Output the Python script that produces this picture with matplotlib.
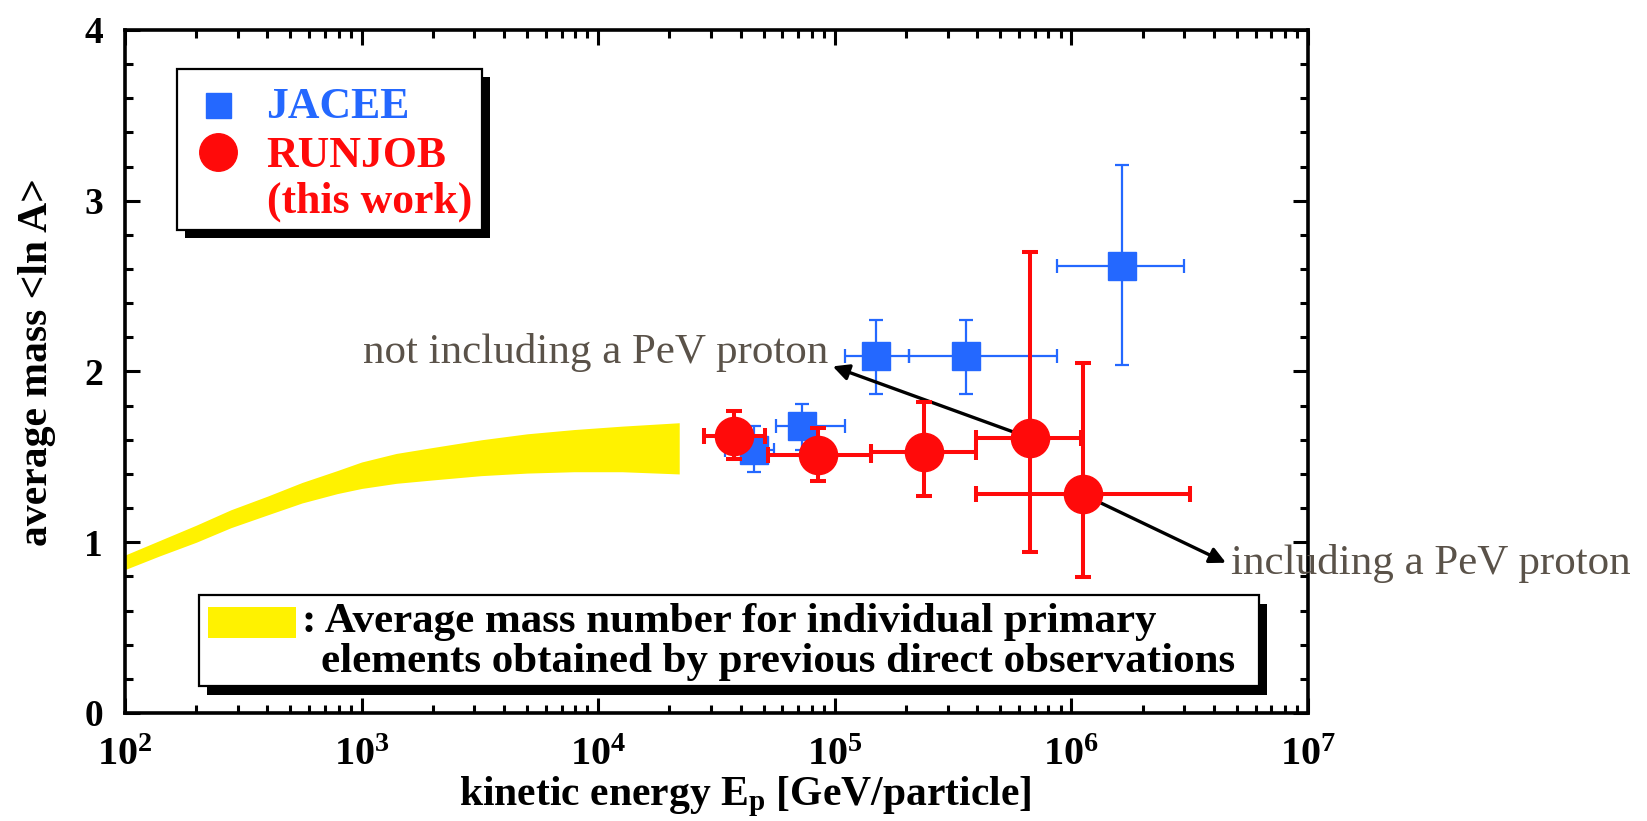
import matplotlib
matplotlib.use("Agg")
import matplotlib.pyplot as plt
from matplotlib.patches import Rectangle
from matplotlib.lines import Line2D
from matplotlib.ticker import FixedLocator, FixedFormatter, LogLocator, MultipleLocator, NullFormatter

plt.rcParams["mathtext.fontset"] = "custom"
plt.rcParams["mathtext.rm"] = "Liberation Serif:bold"
plt.rcParams["mathtext.bf"] = "Liberation Serif:bold"
plt.rcParams["mathtext.it"] = "Liberation Serif:bold"

SERIF = "Liberation Serif"

# Band: <ln A> from individual element spectra of earlier direct observations
band_energy = [1.0e2, 1.4e2, 2.0e2, 2.8e2, 4.0e2, 5.6e2, 7.9e2, 1.0e3,
               1.4e3, 2.0e3, 3.2e3, 5.0e3, 7.9e3, 1.26e4, 2.2e4]
band_upper = [0.925, 1.01, 1.10, 1.19, 1.27, 1.35, 1.42, 1.47,
              1.52, 1.555, 1.60, 1.635, 1.66, 1.68, 1.70]
band_lower = [0.84, 0.92, 1.00, 1.085, 1.16, 1.23, 1.285, 1.315,
              1.345, 1.365, 1.39, 1.405, 1.413, 1.413, 1.40]

# JACEE
jacee_energy = [4.56e4, 7.26e4, 1.50e5, 3.57e5, 1.63e6]
jacee_energy_lo = [3.45e4, 5.66e4, 1.10e5, 2.05e5, 8.67e5]
jacee_energy_hi = [5.56e4, 1.10e5, 2.05e5, 8.67e5, 3.00e6]
jacee_lnA = [1.54, 1.68, 2.09, 2.09, 2.62]
jacee_lnA_lo = [1.41, 1.54, 1.87, 1.87, 2.04]
jacee_lnA_hi = [1.68, 1.81, 2.30, 2.30, 3.21]

# RUNJOB (this work)
runjob_energy = [3.76e4, 8.50e4, 2.39e5, 6.70e5, 1.12e6]
runjob_energy_lo = [2.80e4, 5.20e4, 1.42e5, 3.96e5, 3.96e5]
runjob_energy_hi = [5.05e4, 1.42e5, 3.96e5, 1.10e6, 3.17e6]
runjob_lnA = [1.62, 1.51, 1.53, 1.61, 1.28]
runjob_lnA_lo = [1.49, 1.36, 1.27, 0.94, 0.795]
runjob_lnA_hi = [1.77, 1.67, 1.82, 2.70, 2.05]

x_ticks = [1e2, 1e3, 1e4, 1e5, 1e6, 1e7]
x_tick_labels = [r"$\mathbf{10^{2}}$", r"$\mathbf{10^{3}}$", r"$\mathbf{10^{4}}$",
                 r"$\mathbf{10^{5}}$", r"$\mathbf{10^{6}}$", r"$\mathbf{10^{7}}$"]
y_ticks = [0, 1, 2, 3, 4]
y_tick_labels = ["0", "1", "2", "3", "4"]

BLUE = "#2468FF"
RED = "#FF0A0A"
YELLOW = "#FFF200"
NOTE = "#5A5249"

W, H = 1647, 821
fig = plt.figure(figsize=(W / 100, H / 100), dpi=100)


def fx(px):
    return px / W


def fy(py):
    return 1 - py / H


ax = fig.add_axes([fx(125), fy(713), fx(1308 - 125), (713 - 30) / H])
ax.set_xscale("log")
ax.set_xlim(1e2, 1e7)
ax.set_ylim(0, 4)

# band
ax.fill_between(band_energy, band_lower, band_upper, color=YELLOW, lw=0, zorder=1)


def asym(center, lo, hi):
    return [[c - l for c, l in zip(center, lo)], [h - c for c, h in zip(center, hi)]]


ax.errorbar(jacee_energy, jacee_lnA,
            xerr=asym(jacee_energy, jacee_energy_lo, jacee_energy_hi),
            yerr=asym(jacee_lnA, jacee_lnA_lo, jacee_lnA_hi),
            fmt="s", ms=19.5, color=BLUE, ecolor=BLUE, elinewidth=1.6,
            capsize=5, capthick=1.6, zorder=3)

# arrows linking the labels to the two highest-energy RUNJOB points
arrow_style = dict(arrowstyle="-|>", color="black", lw=2.4, mutation_scale=24,
                   shrinkA=0, shrinkB=0)
ax.annotate("", xy=(9.8e4, 2.03), xytext=(runjob_energy[3], runjob_lnA[3]),
            arrowprops=arrow_style, zorder=4, annotation_clip=False)
ax.annotate("", xy=(4.5e6, 0.88), xytext=(runjob_energy[4], runjob_lnA[4]),
            arrowprops=arrow_style, zorder=4, annotation_clip=False)

ax.errorbar(runjob_energy, runjob_lnA,
            xerr=asym(runjob_energy, runjob_energy_lo, runjob_energy_hi),
            yerr=asym(runjob_lnA, runjob_lnA_lo, runjob_lnA_hi),
            fmt="o", ms=27.5, color=RED, ecolor=RED, elinewidth=2.9,
            capsize=6, capthick=2.9, zorder=5)

ax.text(9.35e4, 2.05, "not including a PeV proton", ha="right", va="baseline",
        fontsize=31, family=SERIF, color=NOTE, zorder=6)
ax.text(4.73e6, 0.814, "including a PeV proton", ha="left", va="baseline",
        fontsize=31, family=SERIF, color=NOTE, zorder=6, clip_on=False)

# axes styling
for s in ax.spines.values():
    s.set_linewidth(2.6)
ax.xaxis.set_major_locator(FixedLocator(x_ticks))
ax.xaxis.set_major_formatter(FixedFormatter(x_tick_labels))
ax.xaxis.set_minor_locator(LogLocator(base=10, subs=range(2, 10)))
ax.xaxis.set_minor_formatter(NullFormatter())
ax.yaxis.set_major_locator(FixedLocator(y_ticks))
ax.yaxis.set_major_formatter(FixedFormatter(y_tick_labels))
ax.yaxis.set_minor_locator(MultipleLocator(0.2))
ax.tick_params(which="both", direction="in", top=True, right=True, width=2.2)
ax.tick_params(which="major", length=11)
ax.tick_params(which="minor", length=6)
ax.tick_params(axis="x", which="major", pad=15, labelsize=29)
ax.tick_params(axis="y", which="major", pad=16, labelsize=27)
for lab in ax.get_yticklabels():
    lab.set_family(SERIF)
    lab.set_weight("bold")

fig.text(fx(745), fy(805), r"kinetic energy E$_\mathbf{p}$ [GeV/particle]",
         ha="center", va="baseline", fontsize=30, family=SERIF, weight="bold")
fig.text(fx(37), fy(362), "average mass <ln A>", rotation=90, ha="center",
         va="center", fontsize=30, family=SERIF, weight="bold")


def boxed(x0, y0, x1, y1, off_x, off_y):
    fig.add_artist(Rectangle((fx(x0 + off_x), fy(y1 + off_y)), fx(x1 - x0), (y1 - y0) / H,
                             transform=fig.transFigure, facecolor="black",
                             edgecolor="black", lw=0, zorder=5))
    fig.add_artist(Rectangle((fx(x0), fy(y1)), fx(x1 - x0), (y1 - y0) / H,
                             transform=fig.transFigure, facecolor="white",
                             edgecolor="black", lw=1.6, zorder=6))


# legend for the data sets
boxed(177, 69, 482, 230, 8, 8)
fig.add_artist(Line2D([fx(217.5)], [fy(105.5)], marker="s", ms=18, color=BLUE,
                      transform=fig.transFigure, zorder=7))
fig.add_artist(Line2D([fx(218)], [fy(152)], marker="o", ms=27, color=RED,
                      transform=fig.transFigure, zorder=7))
fig.text(fx(266), fy(118), "JACEE", fontsize=31.5, family=SERIF, weight="bold",
         color=BLUE, va="baseline", zorder=8)
fig.text(fx(266), fy(167), "RUNJOB", fontsize=31.5, family=SERIF, weight="bold",
         color=RED, va="baseline", zorder=8)
fig.text(fx(267), fy(213), "(this work)", fontsize=31.5, family=SERIF, weight="bold",
         color=RED, va="baseline", zorder=8)

# legend for the band
boxed(199, 595, 1259, 686, 8, 9)
fig.add_artist(Rectangle((fx(207.5), fy(637.5)), fx(88), 31 / H,
                         transform=fig.transFigure, facecolor=YELLOW, lw=0, zorder=7))
fig.text(fx(302), fy(632), ": Average mass number for individual primary",
         fontsize=31, family=SERIF, weight="bold", va="baseline", zorder=8)
fig.text(fx(321), fy(672), "elements obtained by previous direct observations",
         fontsize=31, family=SERIF, weight="bold", va="baseline", zorder=8)

fig.savefig("out.png", dpi=100)
